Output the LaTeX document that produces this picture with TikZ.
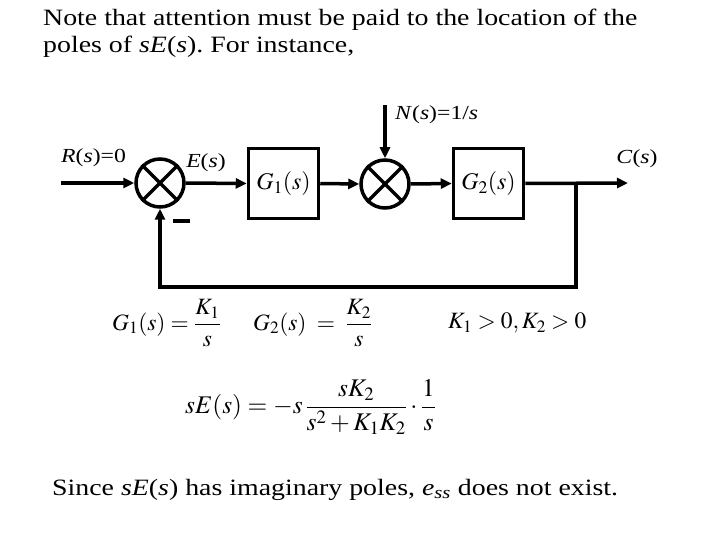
\documentclass[tikz,border=0pt]{standalone}
\usepackage{mathptmx}
\usepackage[no-math]{fontspec}
\setmainfont{Liberation Serif}[FakeStretch=1.19]
\usetikzlibrary{arrows.meta,positioning,calc}
\frenchspacing

\begin{document}
\begin{tikzpicture}[x=1bp,y=-1bp,
  wire/.style={line width=3.5bp},
  sig/.style={wire,-{Triangle[length=11bp,width=10bp]}},
  sumnode/.style={circle,draw,line width=3.5bp,minimum size=48bp,inner sep=0pt},
  blockbox/.style={draw,line width=3.5bp,minimum width=70bp,minimum height=70bp,inner sep=0pt,font=\fontsize{24}{28}\selectfont},
  lbl/.style={font=\fontsize{20}{24}\selectfont,inner sep=0pt},
  body/.style={font=\fontsize{23.5}{28}\selectfont,inner sep=0pt}]
\useasboundingbox (0,0) rectangle (720,540);
% loop blocks
\node[sumnode] (sumA) at (160,183) {};
\node[blockbox] (gOne) at (283.5,183.5) {$G_1(s)$};
\node[sumnode] (sumB) at (385,184) {};
\node[blockbox] (gTwo) at (488.5,183.5) {$G_2(s)$};
\foreach \s in {sumA,sumB} {
  \draw[wire] (\s.45) -- (\s.225);
  \draw[wire] (\s.135) -- (\s.315);
}
% signal lines
\coordinate (rIn) at (61,183);
\coordinate (nIn) at (385,105);
\coordinate (tap) at (576,183);
\coordinate (cOut) at (628,183);
\coordinate (fbCorner) at (576,287);
\draw[sig] (rIn) -- (sumA.west);
\draw[sig] (sumA.east) -- (gOne.west);
\draw[sig] (gOne.east) -- (sumB.west);
\draw[sig] (nIn) -- (sumB.north);
\draw[sig] (sumB.east) -- (gTwo.west);
\draw[sig] (gTwo.east) -- (cOut);
\draw[sig] (tap) -- (fbCorner) -| (sumA.south);
% labels
\node[lbl,anchor=west] (rLbl) at (61,158) {\textit{R}(\textit{s})=0};
\node[lbl] (eLbl) at (206,163) {\textit{E}(\textit{s})};
\node[lbl,anchor=west] (nLbl) at (395,115) {\textit{N}(\textit{s})=1/\textit{s}};
\node[lbl] (cLbl) at (637,159) {\textit{C}(\textit{s})};
\node[lbl] (minus) at (181.5,221) {\rule{17bp}{3.5bp}};
% equations
\node[body,anchor=west] (eqG1) at (112,323) {$\displaystyle G_1(s)=\frac{K_1}{s}$};
\node[body,anchor=west] (eqG2) at (253,323) {$\displaystyle G_2(s)\;=\;\frac{K_2}{s}$};
\node[body,anchor=west] (eqK) at (448,323) {$K_1>0, K_2>0$};
\node[body,anchor=west,font=\fontsize{25.5}{30}\selectfont] (eqSE) at (185,407) {$\displaystyle sE(s)=-s\,\frac{sK_2}{s^2+K_1K_2}\cdot\frac{1}{s}$};
% text
\node[body,anchor=base west,align=left] (note) at (43,53) {Note that attention must be paid to the location of the\\poles of \textit{sE}(\textit{s}). For instance,};
\node[body,anchor=base west] (since) at (52,495) {Since \textit{sE}(\textit{s}) has imaginary poles, \textit{e}\textsubscript{\textit{ss}} does not exist.};
\end{tikzpicture}
\end{document}
